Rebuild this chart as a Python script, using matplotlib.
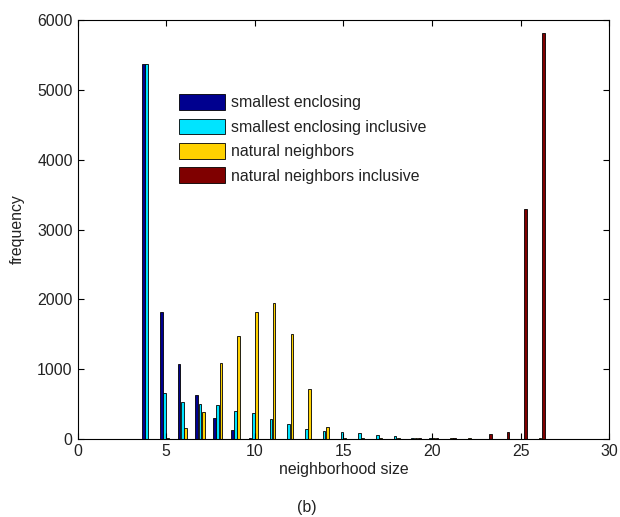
import matplotlib.pyplot as plt
import numpy as np

plt.rcParams['font.family'] = ['Liberation Sans', 'DejaVu Sans']

# neighborhood sizes (group centres)
sizes = np.arange(4, 27)

# frequencies, one entry per size 4..26
smallest = [5370, 1820, 1070, 630, 300, 130, 20, 5, 0, 0, 0, 0, 0, 0, 0,
            5, 5, 0, 0, 0, 0, 0, 0]
smallest_incl = [5370, 660, 530, 500, 490, 400, 370, 280, 210, 140, 120, 100,
                 90, 60, 40, 10, 10, 5, 0, 0, 0, 0, 0]
natural = [0, 10, 160, 390, 1090, 1470, 1820, 1950, 1510, 720, 170, 20, 20,
           15, 10, 10, 15, 10, 15, 0, 0, 0, 15]
natural_incl = [0, 0, 0, 0, 0, 0, 0, 0, 0, 0, 0, 0, 0, 0, 0, 10,
                15, 10, 5, 75, 95, 3300, 5820]

labels = ['smallest enclosing', 'smallest enclosing inclusive',
          'natural neighbors', 'natural neighbors inclusive']
colors = ['#00008f', '#00e4ff', '#ffd200', '#7f0000']

fig = plt.figure(figsize=(6.2, 5.17), dpi=100)
ax = fig.add_axes([0.125, 0.151, 0.858, 0.810])

series = [smallest, smallest_incl, natural, natural_incl]
offsets = [-0.273, -0.091, 0.091, 0.273]
for vals, off, col, lab in zip(series, offsets, colors, labels):
    ax.bar(sizes + off, vals, width=0.15, color=col, edgecolor='black',
           linewidth=0.6, label=lab)

fs = 11.4
ax.set_xlim(0, 30)
ax.set_ylim(0, 6000)
ax.set_xticks(np.arange(0, 31, 5))
ax.set_yticks(np.arange(0, 6001, 1000))
ax.tick_params(direction='in', top=True, right=True, labelsize=fs, length=4,
               labelcolor='#222222')
for s in ax.spines.values():
    s.set_linewidth(0.8)
ax.set_xlabel('neighborhood size', fontsize=fs, labelpad=2, color='#222222')
ax.set_ylabel('frequency', fontsize=fs, labelpad=9, color='#222222')

leg = ax.legend(loc='upper left', bbox_to_anchor=(0.17, 0.85), frameon=False,
                fontsize=fs, handlelength=2.9, handleheight=1.15,
                labelspacing=0.52, handletextpad=0.4, borderpad=0.2,
                labelcolor='#222222')

fig.text(0.495, 0.003, '(b)', ha='center', va='bottom', fontsize=fs,
         color='#222222')

fig.savefig('out.png', dpi=100)
